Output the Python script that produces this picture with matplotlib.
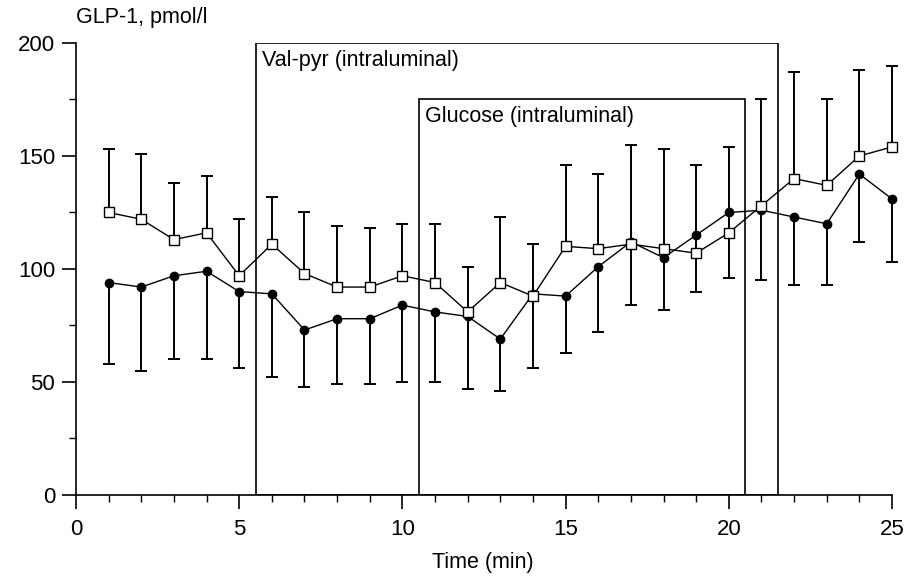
import matplotlib
matplotlib.use("Agg")
import matplotlib.pyplot as plt
from matplotlib.patches import Rectangle
from matplotlib.ticker import MultipleLocator

plt.rcParams['font.family'] = ['Liberation Sans', 'DejaVu Sans']

# data
time = list(range(1, 26))
open_sq = [125, 122, 113, 116, 97, 111, 98, 92, 92, 97, 94, 81, 94, 88, 110,
           109, 111, 109, 107, 116, 128, 140, 137, 150, 154]
open_sq_upper = [153, 151, 138, 141, 122, 132, 125, 119, 118, 120, 120, 101, 123, 111, 146,
                 142, 155, 153, 146, 154, 175, 187, 175, 188, 190]
filled = [94, 92, 97, 99, 90, 89, 73, 78, 78, 84, 81, 79, 69, 89, 88,
          101, 112, 105, 115, 125, 126, 123, 120, 142, 131]
filled_lower = [58, 55, 60, 60, 56, 52, 48, 49, 49, 50, 50, 47, 46, 56, 63,
                72, 84, 82, 90, 96, 95, 93, 93, 112, 103]

valpyr_span = (5.5, 21.5, 200)
glucose_span = (10.5, 20.5, 175)

fig = plt.figure(figsize=(9.19, 5.84), dpi=100)
ax = fig.add_axes([0.0827, 0.1524, 0.8879, 0.774])

# infusion periods drawn as open boxes
for (x0, x1, top), label in [(valpyr_span, "Val-pyr (intraluminal)"),
                             (glucose_span, "Glucose (intraluminal)")]:
    ax.add_patch(Rectangle((x0, 0), x1 - x0, top, fill=False, ec='black', lw=1.2, zorder=1))
    ax.text(x0 + 0.2, top - 3, label, fontsize=15.5, va='top', ha='left')

# one-sided error bars: up for squares, down for circles
ax.vlines(time, open_sq, open_sq_upper, color='black', lw=1.4, zorder=2, clip_on=False)
ax.plot(time, open_sq_upper, '_', color='black', ms=9, mew=1.4, zorder=2, clip_on=False)
ax.vlines(time, filled_lower, filled, color='black', lw=1.4, zorder=2, clip_on=False)
ax.plot(time, filled_lower, '_', color='black', ms=9, mew=1.4, zorder=2, clip_on=False)

ax.plot(time, open_sq, '-s', color='black', lw=1.0, ms=7, mfc='white',
        mec='black', mew=1.0, zorder=4, clip_on=False)
ax.plot(time, filled, '-o', color='black', lw=1.0, ms=6, zorder=3, clip_on=False)

ax.set_xlim(0, 25)
ax.set_ylim(0, 200)
ax.xaxis.set_major_locator(MultipleLocator(5))
ax.xaxis.set_minor_locator(MultipleLocator(1))
ax.yaxis.set_major_locator(MultipleLocator(50))
ax.yaxis.set_minor_locator(MultipleLocator(25))
ax.tick_params(which='major', length=10, width=1.2, labelsize=16, color='black')
ax.tick_params(which='minor', length=5, width=1.0)
ax.tick_params(axis='x', pad=7)
ax.tick_params(axis='y', pad=5)
for s in ['top', 'right']:
    ax.spines[s].set_visible(False)
for s in ['left', 'bottom']:
    ax.spines[s].set_linewidth(1.2)

fig.text(0.0827, 0.952, "GLP-1, pmol/l", fontsize=15.5, ha='left', va='bottom')
fig.text(0.525, 0.018, "Time (min)", fontsize=15.5, ha='center', va='bottom')

fig.savefig("out.png", dpi=100)
